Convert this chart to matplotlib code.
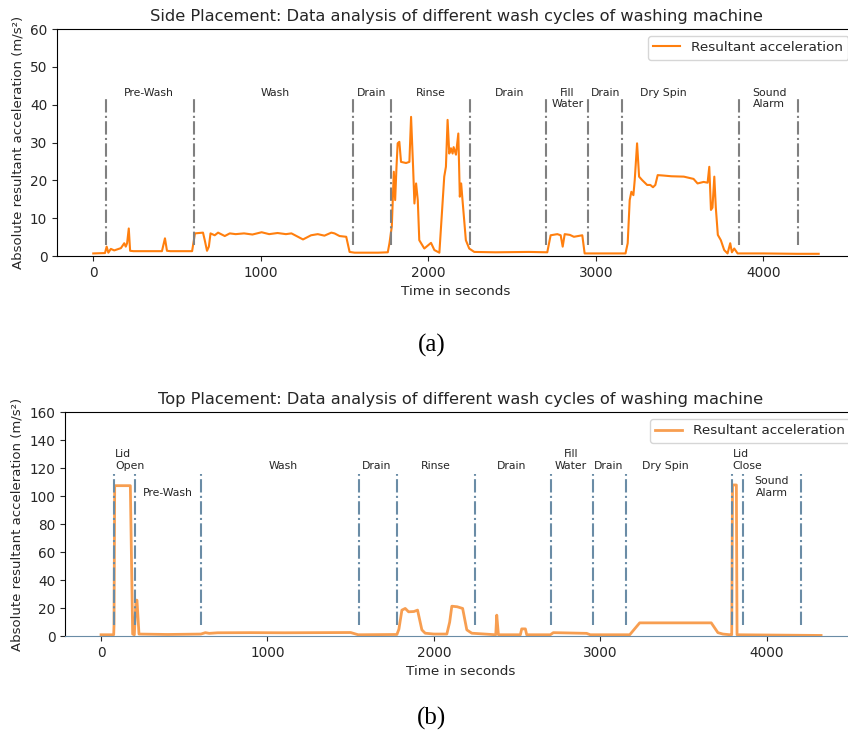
import matplotlib

matplotlib.use("Agg")
import matplotlib.pyplot as plt

# side placement: resultant acceleration (time s, m/s^2)
side_t = [0, 70, 80, 90, 105, 125, 145, 165, 185, 194, 202, 212, 220, 240, 410, 428, 440, 460,
          590, 600, 607, 655, 665, 679, 690, 700, 725, 745, 785, 815, 850, 900, 950, 1005, 1050,
          1100, 1150, 1183, 1222, 1252, 1300, 1340, 1380, 1421, 1440, 1470, 1510, 1530, 1560, 1700,
          1758, 1768, 1782, 1794, 1802, 1810, 1817, 1827, 1837, 1867, 1887, 1897, 1909, 1917, 1927,
          1937, 1946, 1976, 2016, 2036, 2066, 2085, 2095, 2105, 2115, 2125, 2135, 2145, 2151, 2165,
          2179, 2188, 2196, 2204, 2224, 2244, 2274, 2400, 2600, 2710, 2730, 2770, 2790, 2802, 2814,
          2845, 2869, 2895, 2919, 2933, 3000, 3177, 3190, 3202, 3212, 3224, 3232, 3246, 3258, 3276,
          3306, 3325, 3341, 3355, 3369, 3400, 3450, 3525, 3583, 3607, 3643, 3667, 3677, 3687, 3696,
          3707, 3716, 3728, 3746, 3766, 3786, 3802, 3812, 3826, 3846, 4000, 4200, 4330]
side_acc = [0.7, 0.8, 2.5, 0.9, 1.9, 1.5, 1.8, 2.1, 3.4, 2.5, 3.4, 7.3, 1.4, 1.3, 1.3, 4.7, 1.4, 1.3,
            1.3, 4.0, 6.0, 6.2, 4.3, 1.4, 2.5, 6.0, 5.5, 6.2, 5.3, 6.0, 5.8, 6.0, 5.7, 6.3, 5.8,
            6.1, 5.8, 6.0, 5.1, 4.4, 5.5, 5.8, 5.4, 6.2, 6.0, 5.3, 5.1, 1.1, 0.9, 0.9,
            1.0, 3.4, 7.8, 22.3, 14.8, 23.6, 29.8, 30.2, 24.9, 24.6, 24.9, 36.8, 23.6, 13.9, 19.2,
            14.8, 4.2, 2.0, 3.5, 1.6, 0.9, 14.0, 21.0, 23.6, 36.0, 27.1, 28.5, 27.1, 28.8, 26.8,
            32.4, 15.7, 19.2, 14.8, 4.2, 2.0, 1.1, 1.0, 1.1, 1.0, 5.5, 5.8, 5.5, 2.5, 5.8,
            5.6, 5.1, 5.3, 5.5, 0.7, 0.7, 0.7, 3.4, 14.8, 17.0, 16.1, 20.1, 29.8, 21.0, 20.1,
            18.8, 18.8, 18.2, 18.8, 21.4, 21.3, 21.1, 21.0, 20.4, 19.2, 19.6, 19.4, 23.6, 12.2, 12.8,
            21.0, 12.8, 5.6, 4.2, 1.6, 0.7, 3.4, 1.0, 2.0, 0.7, 0.7, 0.6, 0.6]

# top placement
top_t = [0, 76, 78, 82, 170, 176, 190, 200, 210, 216, 228, 400, 600, 627, 650, 700, 900, 1100,
         1300, 1500, 1545, 1778, 1790, 1808, 1828, 1848, 1880, 1902, 1928, 1948, 2000, 2078, 2095,
         2108, 2140, 2173, 2198, 2228, 2372, 2378, 2388, 2520, 2528, 2550, 2558, 2700, 2718, 2800,
         2918, 2940, 3177, 3237, 3667, 3707, 3737, 3780, 3790, 3795, 3818, 3822, 4327]
top_acc = [1.0, 1.0, 8.0, 107.5, 107.5, 107.5, 1.5, 1.0, 25.7, 25.7, 1.5, 1.2, 1.5, 2.5, 2.0, 2.4,
           2.5, 2.4, 2.5, 2.6, 1.0, 1.2, 5.0, 18.6, 19.8, 17.4, 17.6, 18.6, 4.5, 2.1, 1.5, 1.5, 10.0,
           21.4, 21.0, 19.8, 4.5, 2.1, 1.0, 15.0, 1.0, 1.0, 5.2, 5.2, 1.0, 1.0, 2.5, 2.3,
           2.0, 1.0, 1.0, 9.5, 9.5, 2.5, 1.5, 1.0, 1.0, 108.0, 108.0, 1.0, 0.5]

# phase boundaries (s) and phase labels
side_bounds = [77, 600, 1550, 1780, 2250, 2705, 2955, 3155, 3855, 4205]
side_phases = ["Pre-Wash", "Wash", "Drain", "Rinse", "Drain", "Fill\nWater", "Drain", "Dry Spin",
               "Sound\nAlarm"]
side_label_t = [330, 1085, 1660, 2015, 2485, 2830, 3055, 3400, 4035]

top_bounds = [77, 205, 600, 1550, 1780, 2250, 2705, 2955, 3155, 3792, 3855, 4205]
top_phases = ["Lid\nOpen", "Pre-Wash", "Wash", "Drain", "Rinse", "Drain", "Fill\nWater", "Drain",
              "Dry Spin", "Lid\nClose", "Sound\nAlarm"]
top_label_t = [84, 404, 1094, 1655, 2014, 2468, 2822, 3050, 3392, 3796, 4032]
top_label_y = [118, 99, 118, 118, 118, 118, 118, 118, 118, 118, 99]

TXT = "#262626"
plt.rcParams["font.family"] = "DejaVu Sans"
plt.rcParams["text.color"] = TXT
plt.rcParams["axes.labelcolor"] = TXT
plt.rcParams["xtick.color"] = TXT
plt.rcParams["ytick.color"] = TXT

fig = plt.figure(figsize=(8.48, 7.38), dpi=100)

# (a) side placement
ax1 = fig.add_axes([0.0672, 0.653, 0.941, 0.3076])
ax1.plot(side_t, side_acc, color="#ff7f0e", lw=1.5, label="Resultant acceleration")
ax1.vlines(side_bounds, 3, 42, colors="grey", linestyles="-.", lw=1.5)
for x, s in zip(side_label_t, side_phases):
    ax1.text(x, 44.5, s, ha="center", va="top", fontsize=7.8)
ax1.set_ylim(0, 60)
ax1.set_xticks([0, 1000, 2000, 3000, 4000])
ax1.set_title("Side Placement: Data analysis of different wash cycles of washing machine", fontsize=11.7)
ax1.set_xlabel("Time in seconds", fontsize=9.7)
ax1.set_ylabel("Absolute resultant acceleration (m/s²)", fontsize=9.5)
ax1.tick_params(labelsize=9.8)
ax1.legend(loc="upper right", fontsize=9.7)

# (b) top placement
ax2 = fig.add_axes([0.0767, 0.138, 0.934, 0.3035])
ax2.plot(top_t, top_acc, color="#f7943e", lw=2, alpha=0.9, label="Resultant acceleration")
ax2.vlines(top_bounds, 8, 116, colors="#6a8ca6", linestyles="-.", lw=1.5)
for x, y, s in zip(top_label_t, top_label_y, top_phases):
    ha = "left" if s.startswith("Lid") else "center"
    ax2.text(x, y, s, ha=ha, va="bottom", fontsize=7.8)
ax2.set_ylim(0, 160)
ax2.set_xticks([0, 1000, 2000, 3000, 4000])
ax2.spines["bottom"].set_color("#6a8ca6")
ax2.set_title("Top Placement: Data analysis of different wash cycles of washing machine", fontsize=11.7)
ax2.set_xlabel("Time in seconds", fontsize=9.7)
ax2.set_ylabel("Absolute resultant acceleration (m/s²)", fontsize=9.5)
ax2.tick_params(labelsize=9.8)
ax2.legend(loc="upper right", fontsize=9.7)

fig.text(0.509, 1 - 345 / 738, "(a)", ha="center", va="center", fontsize=18,
         family="Liberation Serif", color="black")
fig.text(0.509, 1 - 718 / 738, "(b)", ha="center", va="center", fontsize=18,
         family="Liberation Serif", color="black")

fig.savefig("out.png")
